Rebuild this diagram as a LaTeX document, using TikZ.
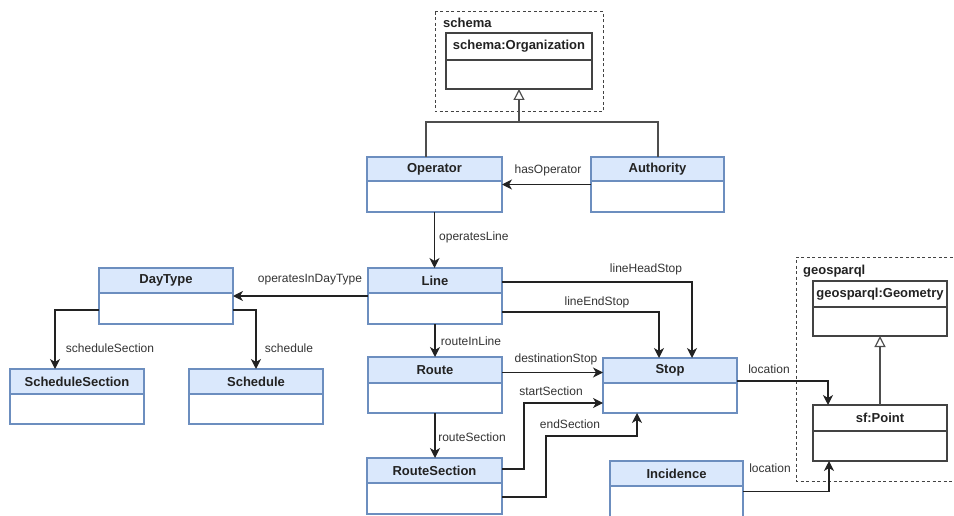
\documentclass[tikz,border=0pt]{standalone}
\usepackage{fontspec}
\setmainfont{Liberation Sans}
\usetikzlibrary{arrows.meta,calc}
\definecolor{bluefill}{HTML}{DAE8FC}
\definecolor{bluestroke}{HTML}{6C8EBF}
\definecolor{ink}{HTML}{222222}
\definecolor{lbl}{HTML}{333333}
\tikzset{
  bluebody/.style={draw=bluestroke, fill=white, line width=1.1pt, inner sep=0pt, outer sep=0pt},
  bluehead/.style={draw=bluestroke, fill=bluefill, line width=1.1pt, inner sep=0pt, outer sep=0pt, font=\bfseries\fontsize{13}{15}\selectfont, text=ink},
  blackbody/.style={draw=ink!85, fill=white, line width=1.1pt, inner sep=0pt, outer sep=0pt},
  blackhead/.style={draw=ink!85, fill=white, line width=1.1pt, inner sep=0pt, outer sep=0pt, font=\bfseries\fontsize{13}{15}\selectfont, text=ink},
  assoc/.style={draw=ink, line width=1.3pt, -{Stealth[length=10pt,width=10pt,inset=3pt]}},
  gener/.style={draw=ink!80, line width=1.2pt, -{Triangle[open,length=11pt,width=11pt]}},
  plainline/.style={draw=ink!80, line width=1.2pt},
  lab/.style={font=\fontsize{12}{14}\selectfont, text=lbl, inner sep=0pt},
  framelab/.style={font=\bfseries\fontsize{13}{15}\selectfont, text=ink, inner sep=0pt, anchor=west},
  dashframe/.style={draw=ink!85, line width=1pt, dash pattern=on 3pt off 2.5pt},
}
\newcommand\classbox[8]{%
  \node[#1body, anchor=north west, minimum width=#5pt, minimum height=#8pt] (#2) at (#3,#4) {};
  \node[#1head, anchor=north west, minimum width=#5pt, minimum height=#7pt] (#2-h) at (#3,#4) {#6};
}
\begin{document}
\begin{tikzpicture}[x=1pt,y=-1pt]
\useasboundingbox (0,0) rectangle (954,516);
% frames
\draw[dashframe] (435,12) rectangle (603,112);
\node[framelab] (schemalab) at (443,23) {schema};
\draw[dashframe] (958,257) -| (796,481) -- (958,481);
\node[framelab] (geolab) at (803,271) {geosparql};
% classes
\classbox{black}{org}{446}{33}{146}{schema:Organization}{27}{56}
\classbox{blue}{op}{367}{157}{135}{Operator}{24}{55}
\classbox{blue}{auth}{591}{157}{133}{Authority}{24}{55}
\classbox{blue}{line}{368}{268}{134}{Line}{25}{56}
\classbox{blue}{day}{99}{268}{134}{DayType}{25}{56}
\classbox{blue}{ss}{10}{369}{134}{ScheduleSection}{25}{55}
\classbox{blue}{sched}{189}{369}{134}{Schedule}{25}{55}
\classbox{blue}{route}{368}{357}{134}{Route}{26}{56}
\classbox{blue}{stop}{603}{358}{134}{Stop}{25}{55}
\classbox{blue}{rs}{367}{458}{135}{RouteSection}{25}{56}
\classbox{blue}{inc}{610}{461}{133}{Incidence}{25}{56}
\classbox{black}{geom}{813}{281}{134}{geosparql:Geometry}{26}{55}
\classbox{black}{pt}{813}{405}{134}{sf:Point}{26}{56}
% generalisations
\coordinate (jn) at (519,122);
\draw[plainline] ([xshift=59pt]op.north west) |- (jn);
\draw[plainline] ([xshift=67pt]auth.north west) |- (jn);
\draw[gener] (jn) -- (org.south);
\draw[gener] (pt.north) -- (geom.south);
% associations
\draw[assoc] (auth.west) -- (op.east);
\node[lab] (l1) at (548,170) {hasOperator};
\draw[assoc] (op.south) -- (op.south |- line.north);
\node[lab, anchor=west] (l2) at (439,237) {operatesLine};
\draw[assoc] (line.west) -- (day.east |- line.west);
\node[lab] (l3) at (310,280) {operatesInDayType};
\draw[assoc] ([yshift=-14pt]day.east) -| (sched.north);
\node[lab] (l4) at (289,348) {schedule};
\draw[assoc] ([yshift=-14pt]day.west) -| ([xshift=45pt]ss.north west);
\node[lab] (l5) at (110,348) {scheduleSection};
\draw[assoc] (line.south) -- (route.north);
\node[lab] (l6) at (471,341) {routeInLine};
\draw[assoc] (route.south) -- (route.south |- rs.north);
\node[lab] (l7) at (472,437) {routeSection};
\draw[assoc] ([yshift=14pt]line.east) -| ([xshift=89pt]stop.north west);
\node[lab] (l8) at (646,269) {lineHeadStop};
\draw[assoc] ([yshift=-16pt]line.east) -| ([xshift=56pt]stop.north west);
\node[lab] (l9) at (597,302) {lineEndStop};
\coordinate (dsA) at ([yshift=12.5pt]route.east);
\draw[assoc] (dsA) -- (stop.west |- dsA);
\node[lab] (l10) at (556,359) {destinationStop};
\draw[assoc] ([yshift=17pt]rs.east) -- ++(22,0) |- ([yshift=-17.5pt]stop.west);
\node[lab] (l11) at (551,391) {startSection};
\draw[assoc] ([yshift=-11pt]rs.east) -- ++(44,0) |- ([xshift=34pt,yshift=-23pt]stop.south west) -- ([xshift=34pt]stop.south west);
\node[lab] (l12) at (570,424) {endSection};
\draw[assoc] ([yshift=4.5pt]stop.east) -| ([xshift=15pt]pt.north west);
\node[lab] (l13) at (769,369) {location};
\draw[assoc] ([yshift=-2.5pt]inc.east) -| ([xshift=16pt]pt.south west);
\node[lab] (l14) at (770,468) {location};
\end{tikzpicture}
\end{document}
